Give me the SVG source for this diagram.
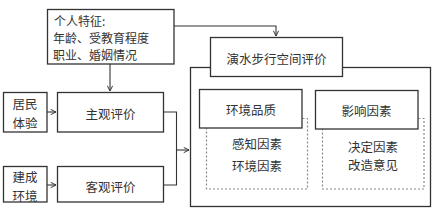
<svg xmlns="http://www.w3.org/2000/svg" width="437" height="212" viewBox="0 0 437 212">
<defs>
<style>
.b{fill:#fff;stroke:#333;stroke-width:1.3}
.d{fill:none;stroke:#888;stroke-width:1.2;stroke-dasharray:2,2}
.c{fill:none;stroke:#333;stroke-width:1.1}
text{font-family:"Noto Sans CJK SC","Noto Sans",sans-serif;font-size:12.5px;fill:#333;text-anchor:middle;dominant-baseline:central}
.s{font-size:12px;text-anchor:start}
</style>
<marker id="a" viewBox="0 0 8 8" refX="7" refY="4" markerWidth="7" markerHeight="7" orient="auto" markerUnits="userSpaceOnUse">
<path d="M1,1 L7,4 L1,7" fill="none" stroke="#333" stroke-width="1.1"/>
</marker>
</defs>
<rect width="437" height="212" fill="#fff"/>
<g id="outer"><rect class="b" x="190.5" y="67.5" width="240" height="139"/></g>
<g id="dash1"><rect class="d" x="206.5" y="118.5" width="101" height="70.5"/></g>
<g id="dash2"><rect class="d" x="322.5" y="118.5" width="101.5" height="70.5"/></g>
<g id="connectors">
<path class="c" d="M174,26 H276 V36" marker-end="url(#a)"/>
<path class="c" d="M110,64 V91" marker-end="url(#a)"/>
<path class="c" d="M47,112 H56" marker-end="url(#a)"/>
<path class="c" d="M47,185 H56" marker-end="url(#a)"/>
<path class="c" d="M163,112 H176.5 V185 H164"/>
<path class="c" d="M176.5,150 H189" marker-end="url(#a)"/>
</g>
<g id="personal"><rect class="b" x="47.5" y="9.5" width="126.5" height="54.5"/>
<text class="s" x="54" y="20">个人特征:</text>
<text class="s" x="53" y="37">年龄、受教育程度</text>
<text class="s" x="53" y="54">职业、婚姻情况</text></g>
<g id="eval"><rect class="b" x="210.5" y="37.5" width="132" height="39"/><text x="276.5" y="58">演水步行空间评价</text></g>
<g id="resident"><rect class="b" x="3.5" y="92.5" width="43.5" height="39.5"/><text x="25" y="103">居民</text><text x="25" y="122">体验</text></g>
<g id="subjective"><rect class="b" x="57.5" y="92.5" width="106" height="39.5"/><text x="110.5" y="113">主观评价</text></g>
<g id="built"><rect class="b" x="3.5" y="166.5" width="43.5" height="35.5"/><text x="25" y="176.5">建成</text><text x="25" y="195">环境</text></g>
<g id="objective"><rect class="b" x="57.5" y="166.5" width="106" height="35.5"/><text x="110.5" y="186">客观评价</text></g>
<g id="quality"><rect class="b" x="199.5" y="89.5" width="102.5" height="38.5"/><text x="251" y="109.5">环境品质</text>
<text x="257" y="143">感知因素</text><text x="257" y="165">环境因素</text></g>
<g id="factors"><rect class="b" x="315.5" y="90.5" width="102.5" height="38.5"/><text x="366.5" y="110">影响因素</text>
<text x="373" y="146">决定因素</text><text x="373" y="164">改造意见</text></g>
</svg>
